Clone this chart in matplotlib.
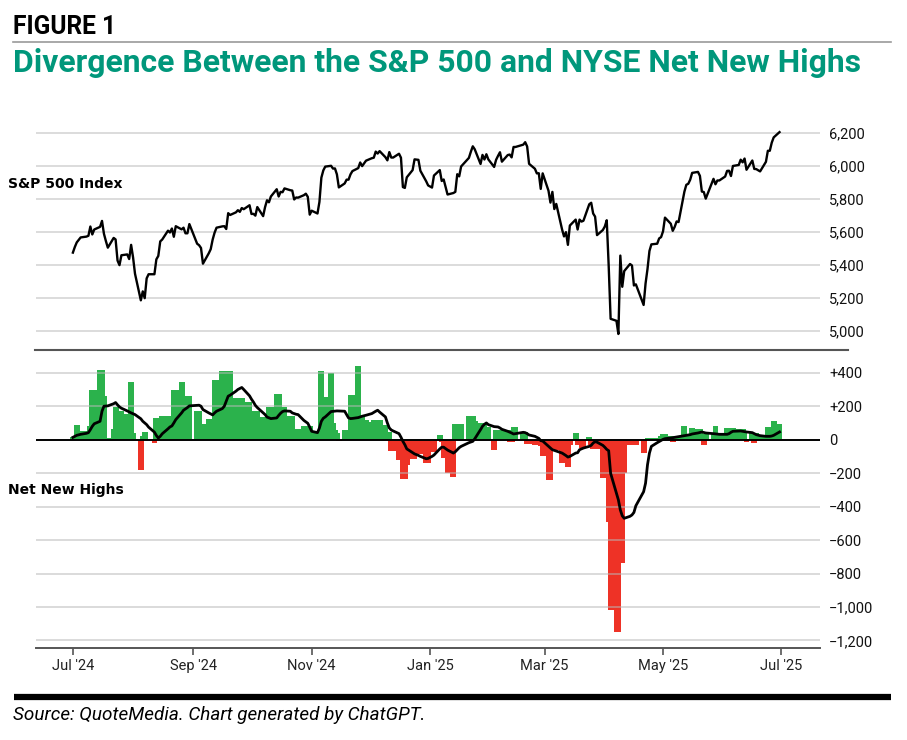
import numpy as np
import pandas as pd
import matplotlib
matplotlib.use('Agg')
import matplotlib.pyplot as plt
import matplotlib.dates as mdates
from matplotlib.lines import Line2D

# trading calendar Jul 2024 - Jun 2025 (NYSE holidays removed)
holidays = ['2024-07-04', '2024-09-02', '2024-11-28', '2024-12-25', '2025-01-01',
            '2025-01-09', '2025-01-20', '2025-02-17', '2025-04-18', '2025-05-26', '2025-06-19']
days = pd.bdate_range('2024-07-01', '2025-06-30')
days = days[~days.isin(pd.to_datetime(holidays))]

# S&P 500 close, by month
spx_jul = [5475, 5509, 5537, 5567, 5572, 5577, 5633, 5585, 5615, 5631, 5667, 5589, 5545, 5505,
           5564, 5555, 5427, 5399, 5459, 5464, 5436, 5522]
spx_aug = [5446, 5347, 5186, 5240, 5199, 5319, 5344, 5344, 5434, 5455, 5543, 5554, 5608, 5597,
           5621, 5571, 5635, 5616, 5626, 5592, 5592, 5648]
spx_sep = [5529, 5520, 5503, 5408, 5471, 5496, 5554, 5596, 5626, 5634, 5635, 5618, 5714, 5703,
           5719, 5732, 5722, 5745, 5738, 5762]
spx_oct = [5709, 5710, 5699, 5751, 5696, 5751, 5792, 5780, 5815, 5859, 5815, 5843, 5841, 5864,
           5853, 5851, 5797, 5809, 5808, 5823, 5832, 5813, 5705]
spx_nov = [5729, 5712, 5782, 5929, 5973, 5996, 6001, 5984, 5985, 5949, 5870, 5894, 5917, 5917,
           5949, 5969, 5987, 6021, 5999, 6032]
spx_dec = [6047, 6050, 6087, 6075, 6090, 6053, 6034, 6084, 6051, 6051, 6074, 6050, 5872, 5867,
           5931, 5975, 6040, 6037, 5971, 5907, 5882]
spx_jan = [5869, 5942, 5975, 5909, 5918, 5827, 5836, 5843, 5950, 5937, 5997, 6049, 6086, 6119,
           6101, 6012, 6067, 6039, 6071, 6040]
spx_feb = [5994, 6037, 6061, 6083, 6026, 6066, 6069, 6052, 6115, 6115, 6129, 6144, 6118, 6013,
           5983, 5955, 5956, 5861, 5955]
spx_mar = [5850, 5778, 5843, 5739, 5770, 5615, 5573, 5599, 5522, 5639, 5675, 5615, 5675, 5663,
           5668, 5768, 5777, 5712, 5693, 5581, 5612]
spx_apr = [5633, 5671, 5397, 5074, 5062, 4982, 5457, 5268, 5363, 5406, 5397, 5276, 5283, 5158,
           5288, 5376, 5485, 5525, 5529, 5561, 5569]
spx_may = [5604, 5687, 5650, 5607, 5631, 5664, 5660, 5844, 5886, 5892, 5917, 5958, 5964, 5940,
           5845, 5842, 5802, 5922, 5889, 5912, 5912]
spx_jun = [5936, 5970, 5971, 5939, 6000, 6006, 6038, 6022, 6045, 5977, 6033, 5982, 5981, 5967,
           6025, 6092, 6092, 6141, 6173, 6205]

# NYSE net new highs, by month
nnh_jul = [14, 10, 90, 54, 54, 54, 84, 298, 298, 416, 416, 264, 10, 10, 64, 198, 174, 174, 174,
           154, 154, 344]
nnh_aug = [40, 5, -180, 20, 44, 3, 3, -22, 128, 128, 128, 144, 144, 144, 144, 294, 294, 344, 262,
           262, 262, 262]
nnh_sep = [170, 170, 94, 94, 124, 124, 124, 354, 354, 410, 410, 410, 410, 410, 250, 250, 250, 250,
           224, 224]
nnh_oct = [174, 174, 174, 174, 134, 134, 134, 194, 194, 274, 274, 194, 194, 194, 144, 144, 64, 64,
           64, 84, 84, 84, 84]
nnh_nov = [44, 40, 46, 412, 256, 256, 396, 100, 60, 40, -10, 60, 60, 60, 266, 266, 440, 140, 140, 120]
nnh_dec = [106, 116, 116, 116, 116, 86, 46, 46, -70, -70, -124, -124, -238, -238, -150, -114, -114,
           -84, -84, -140, -140]
nnh_jan = [-74, -74, 30, -14, -110, -200, -225, 96, 96, 96, 96, 140, 140, 140, 110, 100, 100, 100,
           76, 76]
nnh_feb = [-60, 56, 56, 56, 56, 60, -14, -14, 76, 76, 46, 46, -24, -24, -30, -30, -30, -40, -96]
nnh_mar = [-244, -244, -62, -62, -62, -137, -137, -137, -165, -32, 40, -32, -32, -50, -50, 16, -34,
           -54, -54, -54, -231]
nnh_apr = [-120, -80, -490, -1018, -1148, -1148, -300, -739, -201, -30, -30, -30, -30, -82, 4, 8,
           10, 10, 10, 12, 20]
nnh_may = [36, 36, 22, -14, 22, 22, 22, 80, 22, 22, 22, 72, 66, 66, 36, -34, 36, 36, 80, 36, 36]
nnh_jun = [36, 72, 72, 72, 72, 66, 66, 66, 40, -14, 42, -20, 42, 26, 26, 76, 76, 76, 110, 92]

# moving average line of net new highs
ma_dates = ['2024-07-01', '2024-07-03', '2024-07-05', '2024-07-08', '2024-07-09', '2024-07-10',
            '2024-07-11', '2024-07-12', '2024-07-15', '2024-07-16', '2024-07-17', '2024-07-19',
            '2024-07-22', '2024-07-23', '2024-07-24', '2024-07-25', '2024-07-26', '2024-07-29',
            '2024-07-31', '2024-08-02', '2024-08-05', '2024-08-06', '2024-08-08', '2024-08-09',
            '2024-08-12', '2024-08-13', '2024-08-14', '2024-08-15', '2024-08-16', '2024-08-19',
            '2024-08-20', '2024-08-21', '2024-08-22', '2024-08-23', '2024-08-26', '2024-08-27',
            '2024-08-29', '2024-08-30', '2024-09-04', '2024-09-05', '2024-09-06', '2024-09-09',
            '2024-09-11', '2024-09-12', '2024-09-13', '2024-09-16', '2024-09-17', '2024-09-18',
            '2024-09-19', '2024-09-20', '2024-09-23', '2024-09-24', '2024-09-26', '2024-09-27',
            '2024-09-30', '2024-10-01', '2024-10-02', '2024-10-03', '2024-10-04', '2024-10-07',
            '2024-10-08', '2024-10-09', '2024-10-11', '2024-10-14', '2024-10-15', '2024-10-16',
            '2024-10-17', '2024-10-18', '2024-10-21', '2024-10-22', '2024-10-24', '2024-10-25',
            '2024-10-28', '2024-10-30', '2024-10-31', '2024-11-01', '2024-11-04', '2024-11-05',
            '2024-11-06', '2024-11-07', '2024-11-08', '2024-11-11', '2024-11-14', '2024-11-18',
            '2024-11-19', '2024-11-20', '2024-11-21', '2024-11-22', '2024-11-25', '2024-11-27',
            '2024-11-29', '2024-12-02', '2024-12-04', '2024-12-05', '2024-12-06', '2024-12-09',
            '2024-12-10', '2024-12-11', '2024-12-12', '2024-12-13', '2024-12-16', '2024-12-17',
            '2024-12-18', '2024-12-19', '2024-12-20', '2024-12-23', '2024-12-24', '2024-12-26',
            '2024-12-27', '2024-12-30', '2024-12-31', '2025-01-02', '2025-01-03', '2025-01-06',
            '2025-01-07', '2025-01-08', '2025-01-10', '2025-01-13', '2025-01-14', '2025-01-15',
            '2025-01-16', '2025-01-17', '2025-01-21', '2025-01-23', '2025-01-24', '2025-01-27',
            '2025-01-28', '2025-01-29', '2025-01-30', '2025-01-31', '2025-02-03', '2025-02-05',
            '2025-02-06', '2025-02-07', '2025-02-10', '2025-02-12', '2025-02-13', '2025-02-14',
            '2025-02-18', '2025-02-19', '2025-02-20', '2025-02-21', '2025-02-24', '2025-02-26',
            '2025-02-27', '2025-02-28', '2025-03-03', '2025-03-04', '2025-03-05', '2025-03-07',
            '2025-03-10', '2025-03-12', '2025-03-13', '2025-03-14', '2025-03-17', '2025-03-18',
            '2025-03-19', '2025-03-21', '2025-03-24', '2025-03-25', '2025-03-26', '2025-03-27',
            '2025-03-28', '2025-03-31', '2025-04-01', '2025-04-02', '2025-04-03', '2025-04-04',
            '2025-04-07', '2025-04-08', '2025-04-09', '2025-04-10', '2025-04-11', '2025-04-14',
            '2025-04-15', '2025-04-16', '2025-04-17', '2025-04-21', '2025-04-22', '2025-04-23',
            '2025-04-24', '2025-04-25', '2025-04-28', '2025-04-30', '2025-05-01', '2025-05-02',
            '2025-05-05', '2025-05-08', '2025-05-12', '2025-05-15', '2025-05-16', '2025-05-19',
            '2025-05-21', '2025-05-23', '2025-05-27', '2025-05-30', '2025-06-03', '2025-06-04',
            '2025-06-05', '2025-06-06', '2025-06-10', '2025-06-12', '2025-06-13', '2025-06-16',
            '2025-06-17', '2025-06-18', '2025-06-20', '2025-06-23', '2025-06-25', '2025-06-26',
            '2025-06-27', '2025-06-30']
ma_vals = [14, 26, 32, 38, 42, 60,
           80, 95, 110, 170, 200, 202,
           215, 222, 208, 196, 188, 172,
           160, 150, 125, 110, 90, 75,
           45, 25, 10, 20, 35, 65,
           76, 82, 100, 120, 160, 176,
           192, 202, 206, 200, 180, 160,
           148, 160, 170, 186, 200, 230,
           260, 266, 290, 300, 312, 300,
           262, 242, 225, 205, 192, 160,
           150, 135, 126, 130, 145, 158,
           168, 172, 170, 160, 152, 150,
           115, 98, 75, 50, 42, 70,
           110, 128, 136, 168, 172, 170,
           150, 130, 126, 127, 132, 140,
           146, 156, 170, 176, 165, 136,
           100, 70, 58, 52, 36, 15,
           -10, -30, -55, -78, -85, -94,
           -100, -114, -112, -100, -92, -55,
           -45, -45, -62, -80, -72, -60,
           -48, -40, -18, -10, 5, 60,
           80, 92, 100, 90, 78, 76,
           70, 62, 50, 40, 34, 36,
           44, 42, 36, 28, 20, 8,
           -6, -8, -40, -50, -60, -68,
           -80, -95, -104, -100, -80, -78,
           -60, -50, -40, -34, -20, -12,
           -15, -34, -45, -58, -66, -201,
           -321, -360, -420, -455, -470, -458,
           -450, -435, -395, -311, -260, -150,
           -80, -40, -18, -5, 2, 6,
           10, 16, 24, 30, 34, 40,
           46, 40, 36, 32, 32, 36,
           44, 50, 52, 48, 46, 42,
           36, 30, 24, 20, 20, 22,
           26, 46]

spx = spx_jul + spx_aug + spx_sep + spx_oct + spx_nov + spx_dec + spx_jan + spx_feb + spx_mar + spx_apr + spx_may + spx_jun
nnh = nnh_jul + nnh_aug + nnh_sep + nnh_oct + nnh_nov + nnh_dec + nnh_jan + nnh_feb + nnh_mar + nnh_apr + nnh_may + nnh_jun
assert len(spx) == len(days) == len(nnh)
ma_days = pd.to_datetime(ma_dates)

GREEN = '#2bb24c'
RED = '#ee3226'
TEAL = '#00977b'
W, H = 907, 740

def fx(px):
    return px / W

def fy(py):
    return 1 - py / H

fig = plt.figure(figsize=(W / 100, H / 100), dpi=100)
left, right = 36, 819.5
ax1 = fig.add_axes([fx(left), fy(350), fx(right) - fx(left), fy(110) - fy(350)])
ax2 = fig.add_axes([fx(left), fy(648.3), fx(right) - fx(left), fy(350) - fy(648.3)])

x0 = mdates.date2num(pd.Timestamp('2024-07-01'))
for ax in (ax1, ax2):
    ax.set_xlim(x0 - 19.0, x0 + 384.6)
    for s in ax.spines.values():
        s.set_visible(False)
    ax.yaxis.tick_right()
    ax.tick_params(axis='y', length=0, pad=7, labelsize=10.5, labelcolor='#111111')
    for lab in ax.get_yticklabels():
        lab.set_family('Roboto')

# top panel
ax1.plot(days, spx, color='black', lw=1.7, zorder=3, solid_joinstyle='round')
ax1.set_ylim(4885, 6339)
top_ticks = list(range(5000, 6201, 200))
ax1.set_yticks(top_ticks)
ax1.set_yticklabels([f'{v:,}' for v in top_ticks], family='Roboto')
for v in top_ticks:
    ax1.axhline(v, color='#d2d2d2', lw=1.1, zorder=1)
ax1.set_xticks([])

# bottom panel
colors = [GREEN if v >= 0 else RED for v in nnh]
ax2.bar(days, nnh, width=3.0, color=colors, linewidth=0, zorder=2)
ax2.set_ylim(-1247, 536)
bot_ticks = list(range(-1200, 401, 200))
ax2.set_yticks(bot_ticks)

def nnh_label(v):
    if v > 0:
        return f'+{v:,}'
    if v < 0:
        return f'\u2212{abs(v):,}'
    return '0'

ax2.set_yticklabels([nnh_label(v) for v in bot_ticks], family=['Roboto', 'DejaVu Sans'])
for v in bot_ticks:
    if v != 0:
        ax2.axhline(v, color='#b8b8b8', lw=1.1, alpha=0.65, zorder=2.5)
ax2.axhline(0, color='black', lw=1.4, zorder=3)
ax2.plot(ma_days, ma_vals, color='black', lw=2.0, zorder=4, solid_joinstyle='round')

ax2.spines['bottom'].set_visible(True)
ax2.spines['bottom'].set_color('#555555')
ax2.spines['bottom'].set_linewidth(1.4)
month_ticks = pd.to_datetime(['2024-07-01', '2024-09-01', '2024-11-01', '2025-01-01',
                              '2025-03-01', '2025-05-01', '2025-07-01'])
ax2.set_xticks(month_ticks)
ax2.set_xticklabels([d.strftime("%b '%y") for d in month_ticks], family='Roboto')
ax2.tick_params(axis='x', length=5, width=1.2, color='#555555', labelsize=10.5,
                labelcolor='#222222', pad=3)

# panel labels
fig.text(fx(8), fy(184), 'S&P 500 Index', family='DejaVu Sans', weight='bold', fontsize=10,
         va='center', ha='left')
fig.text(fx(8), fy(490), 'Net New Highs', family='DejaVu Sans', weight='bold', fontsize=10,
         va='center', ha='left')

# divider between panels
fig.add_artist(Line2D([fx(35), fx(848)], [fy(350), fy(350)], color='#555555', lw=1.5))

# header and footer
t_fig = fig.text(fx(13), fy(27), 'FIGURE 1', family='Roboto', weight='bold', fontsize=15,
                 va='center', ha='left', color='black')
fig.add_artist(Line2D([fx(13), fx(891)], [fy(42), fy(42)], color='#9a9a9a', lw=1.2))
t_title = fig.text(fx(13), fy(63), 'Divergence Between the S&P 500 and NYSE Net New Highs',
                   family='Roboto', weight='bold', fontsize=21, va='center', ha='left', color=TEAL)
fig.add_artist(Line2D([fx(14), fx(891)], [fy(697), fy(697)], color='black', lw=4.5,
                      solid_capstyle='butt'))
t_src = fig.text(fx(13), fy(715), 'Source: QuoteMedia. Chart generated by ChatGPT.',
                 family='Roboto', style='italic', fontsize=12.5, va='center', ha='left',
                 color='black')

# squeeze header/footer text to the widths seen in the reference
renderer = fig.canvas.get_renderer()
for t, target in [(t_fig, 104), (t_title, 849), (t_src, 412)]:
    w = t.get_window_extent(renderer).width
    t.set_fontsize(t.get_fontsize() * target / w)

fig.savefig('out.png', dpi=100)
